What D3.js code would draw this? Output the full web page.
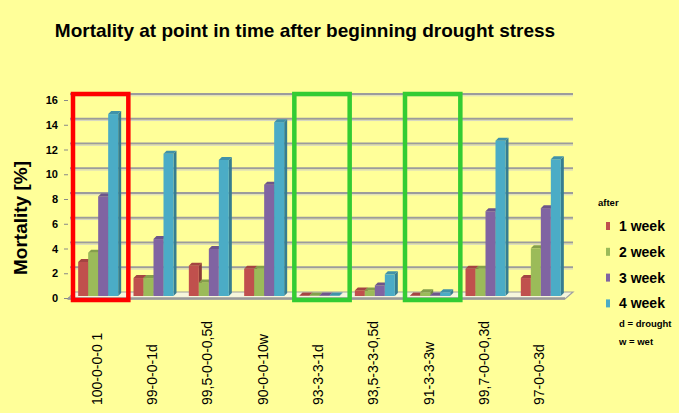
<!DOCTYPE html>
<html>
<head>
<meta charset="utf-8">
<script src="https://cdn.jsdelivr.net/npm/d3@7/dist/d3.min.js"></script>
<style>
  body { margin: 0; background: #ffff99; }
  svg { display: block; font-family: 'Liberation Sans', Arial, sans-serif; }
</style>
</head>
<body>
<div id="plot"></div>
<script>
'use strict';

const categories = ['100-0-0-0 1', '99-0-0-1d', '99,5-0-0-0,5d', '90-0-0-10w', '93-3-3-1d',
  '93,5-3-3-0,5d', '91-3-3-3w', '99,7-0-0-0,3d', '97-0-0-3d']
const seriesNames = ['1 week', '2 week', '3 week', '4 week']
const week1 = [2.75, 1.45, 2.45, 2.2, 0.05, 0.45, 0.05, 2.2, 1.45]
const week2 = [3.5, 1.45, 1.1, 2.2, 0.05, 0.45, 0.3, 2.2, 3.85]
const week3 = [8.05, 4.6, 3.8, 9.0, 0.05, 0.85, 0.05, 6.85, 7.1]
const week4 = [14.7, 11.5, 11.0, 14.05, 0.05, 1.75, 0.3, 12.55, 11.05]
const yTicks = [0, 2, 4, 6, 8, 10, 12, 14, 16]
const frames = [
  {cat: '100-0-0-0 1', color: '#ff0000'},
  {cat: '93-3-3-1d', color: '#33cc33'},
  {cat: '91-3-3-3w', color: '#33cc33'}
]
const notes = ['d = drought', 'w = wet']

const series = [week1, week2, week3, week4]
let col = ['#c0504d', '#9bbb59', '#8064a2', '#4bacc6']

const width = 679, height = 413
const depth = {dx: 3, dy: 3}
const barW = 10

let svg = d3.select('#plot').append('svg')
  .attr('width', width)
  .attr('height', height)

svg.append('rect')
  .attr('width', width)
  .attr('height', height)
  .attr('fill', '#ffff99')

let x = d3.scaleBand()
  .domain(categories)
  .range([72, 570])
let y = d3.scaleLinear()
  .domain([0, 16])
  .range([298, 100])
// plane the bars stand on, a bit behind the axis labels
let yb = d3.scaleLinear()
  .domain([0, 16])
  .range([296, 98])
let wall = 6

// floor
let x0 = x.range()[0], x1 = x.range()[1]
svg.append('polygon')
  .attr('points', [[x0 - 4, y(0) + 1], [x1 - 5, y(0) + 1], [x1 + 3, y(0) - wall], [x0 + 2, y(0) - wall]].join(' '))
  .attr('fill', '#f6f6dc')
  .attr('stroke', '#a0a0a0')
  .attr('stroke-width', 1.2)

// back wall gridlines
let grid = svg.append('g')
grid.selectAll('line.g1')
  .data(yTicks.slice(1))
  .enter()
  .append('line')
  .attr('x1', x0 - 2)
  .attr('x2', x1 + 3)
  .attr('y1', d => y(d) - wall)
  .attr('y2', d => y(d) - wall)
  .attr('stroke', '#9c9c9c')
  .attr('stroke-width', 2)
grid.selectAll('line.g2')
  .data(yTicks.slice(1))
  .enter()
  .append('line')
  .attr('x1', x0 - 2)
  .attr('x2', x1 + 3)
  .attr('y1', d => y(d) - wall + 1.8)
  .attr('y2', d => y(d) - wall + 1.8)
  .attr('stroke', '#d6d6c4')
  .attr('stroke-width', 1)

// bars
let groupW = barW * series.length + depth.dx
let bars = svg.append('g')
categories.forEach(function(cat, ci) {
  let start = x(cat) + (x.bandwidth() - groupW) / 2
  series.forEach(function(s, si) {
    let bx = start + si * barW
    let top = yb(s[ci]), bot = yb(0)
    let c = d3.color(col[si])
    let g = bars.append('g')
    g.append('polygon')
      .attr('points', [[bx + barW, top], [bx + barW + depth.dx, top - depth.dy],
        [bx + barW + depth.dx, bot - depth.dy], [bx + barW, bot]].join(' '))
      .attr('fill', c.darker(0.9))
    g.append('rect')
      .attr('x', bx)
      .attr('y', top)
      .attr('width', barW)
      .attr('height', bot - top)
      .attr('fill', c)
    g.append('polygon')
      .attr('points', [[bx, top], [bx + depth.dx, top - depth.dy],
        [bx + barW + depth.dx, top - depth.dy], [bx + barW, top]].join(' '))
      .attr('fill', c.darker(0.45))
  })
})

// floor front edge
svg.append('line')
  .attr('x1', x0 - 4)
  .attr('x2', x1 - 5)
  .attr('y1', y(0) + 0.5)
  .attr('y2', y(0) + 0.5)
  .attr('stroke', '#999')
  .attr('stroke-width', 2.5)

// y axis
let y_axis = d3.axisLeft()
  .scale(y)
  .tickValues(yTicks)
  .tickSize(4)
  .tickPadding(6)
let ax = svg.append('g')
  .attr('transform', `translate(${x0 - 4}, 0)`)
  .call(y_axis)
ax.select('.domain').remove()
ax.selectAll('line').attr('stroke', '#888')
ax.selectAll('text')
  .attr('font-family', "'Liberation Sans', Arial, sans-serif")
  .attr('font-size', '11px')
  .attr('font-weight', 'bold')
  .attr('fill', '#000')

// x labels
svg.append('g')
  .selectAll('text')
  .data(categories)
  .enter()
  .append('text')
  .attr('transform', d => `translate(${x(d) + x.bandwidth() / 2 - 3}, 405) rotate(-90)`)
  .attr('dy', '0.35em')
  .attr('font-size', '14px')
  .attr('fill', '#000')
  .text(d => d)

// highlight frames
svg.append('g')
  .selectAll('rect')
  .data(frames)
  .enter()
  .append('rect')
  .attr('x', d => x(d.cat) + 1)
  .attr('y', y(16) - wall)
  .attr('width', x.bandwidth())
  .attr('height', y(0) + 2 - (y(16) - wall))
  .attr('fill', 'none')
  .attr('stroke', d => d.color)
  .attr('stroke-width', 4.5)

// title
svg.append('text')
  .attr('x', 305)
  .attr('y', 37)
  .attr('text-anchor', 'middle')
  .attr('font-size', '19px')
  .attr('font-weight', 'bold')
  .text('Mortality at point in time after beginning drought stress')

svg.append('text')
  .attr('transform', 'translate(27, 218) rotate(-90)')
  .attr('text-anchor', 'middle')
  .attr('font-size', '19px')
  .attr('font-weight', 'bold')
  .text('Mortality [%]')

// legend
let legend = svg.append('g')
legend.append('text')
  .attr('x', 598)
  .attr('y', 206)
  .attr('font-size', '9.5px')
  .attr('font-weight', 'bold')
  .text('after')
let items = legend.selectAll('g.item')
  .data(seriesNames)
  .enter()
  .append('g')
  .attr('transform', (d, i) => `translate(606, ${226 + i * 25.8})`)
items.append('rect')
  .attr('x', 0)
  .attr('y', -4)
  .attr('width', 4)
  .attr('height', 8)
  .attr('fill', (d, i) => col[i])
items.append('text')
  .attr('x', 13)
  .attr('y', 5)
  .attr('font-size', '14px')
  .attr('font-weight', 'bold')
  .text(d => d)
legend.selectAll('text.note')
  .data(notes)
  .enter()
  .append('text')
  .attr('x', 619)
  .attr('y', (d, i) => 327 + i * 18)
  .attr('font-size', '9.5px')
  .attr('font-weight', 'bold')
  .text(d => d)
</script>
</body>
</html>
